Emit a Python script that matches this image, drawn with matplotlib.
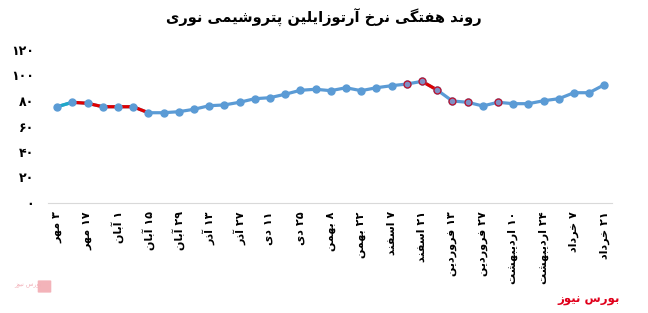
import re
import matplotlib
matplotlib.use("Agg")
import matplotlib.pyplot as plt
from matplotlib.patches import FancyBboxPatch

# --- tiny persian shaper (matplotlib does no arabic shaping / bidi) ---
FORMS = {
    'ا': (0xFE8D, 0xFE8E, None, None), 'آ': (0xFE81, 0xFE82, None, None),
    'ب': (0xFE8F, 0xFE90, 0xFE91, 0xFE92), 'پ': (0xFB56, 0xFB57, 0xFB58, 0xFB59),
    'ت': (0xFE95, 0xFE96, 0xFE97, 0xFE98), 'خ': (0xFEA5, 0xFEA6, 0xFEA7, 0xFEA8),
    'د': (0xFEA9, 0xFEAA, None, None), 'ذ': (0xFEAB, 0xFEAC, None, None),
    'ر': (0xFEAD, 0xFEAE, None, None), 'ز': (0xFEAF, 0xFEB0, None, None),
    'س': (0xFEB1, 0xFEB2, 0xFEB3, 0xFEB4), 'ش': (0xFEB5, 0xFEB6, 0xFEB7, 0xFEB8),
    'ف': (0xFED1, 0xFED2, 0xFED3, 0xFED4), 'گ': (0xFB92, 0xFB93, 0xFB94, 0xFB95),
    'ل': (0xFEDD, 0xFEDE, 0xFEDF, 0xFEE0), 'م': (0xFEE1, 0xFEE2, 0xFEE3, 0xFEE4),
    'ن': (0xFEE5, 0xFEE6, 0xFEE7, 0xFEE8), 'و': (0xFEED, 0xFEEE, None, None),
    'ه': (0xFEE9, 0xFEEA, 0xFEEB, 0xFEEC), 'ی': (0xFBFC, 0xFBFD, 0xFBFE, 0xFBFF),
}


def shape(s):
    out = []
    for i, c in enumerate(s):
        if c not in FORMS:
            out.append(c)
            continue
        f = FORMS[c]
        prev = s[i - 1] if i > 0 else ''
        nxt = s[i + 1] if i + 1 < len(s) else ''
        jp = prev in FORMS and FORMS[prev][2] is not None
        jn = nxt in FORMS and f[2] is not None
        if jp and jn:
            code = f[3]
        elif jp:
            code = f[1]
        elif jn:
            code = f[2]
        else:
            code = f[0]
        out.append(chr(code))
    shaped = ''.join(out)
    toks = re.findall(r'[۰-۹0-9]+|[^۰-۹0-9]+', shaped)
    return ''.join(t if re.match(r'[۰-۹0-9]', t) else t[::-1] for t in toks[::-1])


title = "روند هفتگی نرخ آرتوزایلین پتروشیمی نوری"
labels = ["۳ مهر", "۱۷ مهر", "۱ آبان", "۱۵ آبان", "۲۹ آبان", "۱۳ آذر", "۲۷ آذر",
          "۱۱ دی", "۲۵ دی", "۸ بهمن", "۲۲ بهمن", "۷ اسفند", "۲۱ اسفند",
          "۱۳ فروردین", "۲۷ فروردین", "۱۰ اردیبهشت", "۲۴ اردیبهشت",
          "۷ خرداد", "۲۱ خرداد"]
prices = [75.5, 79.0, 78.2, 75.5, 75.5, 75.5, 70.8, 70.8, 71.6, 73.5,
          76.3, 76.9, 79.0, 81.8, 82.6, 85.3, 88.4, 89.2, 88.1, 90.4,
          88.1, 90.4, 92.0, 93.3, 95.4, 88.6, 80.0, 79.0, 76.1, 79.0,
          77.9, 77.9, 80.2, 81.8, 86.5, 86.5, 92.8]
yticks = [0, 20, 40, 60, 80, 100, 120]
ytick_labels = ["۰", "۲۰", "۴۰", "۶۰", "۸۰", "۱۰۰", "۱۲۰"]
red_runs = [(1, 6), (24, 25)]
teal_runs = [(0, 1)]
outlined = [23, 24, 25, 26, 27, 29]

plt.rcParams['font.family'] = ['DejaVu Sans']

fig = plt.figure(figsize=(6.48, 3.13), dpi=100)
ax = fig.add_axes([48 / 648, 1 - 203 / 313, (612 - 48) / 648, (203 - 50) / 313])

x = list(range(len(prices)))
blue = '#5B9BD5'
ax.plot(x, prices, color=blue, lw=2.3, zorder=2)
for a, b in red_runs:
    ax.plot(x[a:b + 1], prices[a:b + 1], color='#E00000', lw=2.3, zorder=3)
for a, b in teal_runs:
    ax.plot(x[a:b + 1], prices[a:b + 1], color='#1FA8C9', lw=2.3, zorder=3)
ax.plot(x, prices, 'o', color=blue, ms=5, zorder=4)
ax.plot([x[i] for i in outlined], [prices[i] for i in outlined], 'o',
        mfc='#7F8FC4', mec='#C0102A', mew=0.9, ms=5, zorder=5)

ax.set_xlim(-0.6, 36.5)
ax.set_ylim(0, 120)
ax.set_yticks(yticks)
ax.set_yticklabels(ytick_labels, fontsize=9, fontweight='bold')
ax.set_xticks(x[::2])
ax.set_xticklabels([shape(l) for l in labels], rotation=90, fontsize=8,
                   fontweight='bold', va='top', ha='center')
ax.tick_params(length=0, pad=6)
ax.tick_params(axis='y', pad=10)
for s in ['top', 'right', 'left']:
    ax.spines[s].set_visible(False)
ax.spines['bottom'].set_color('#D9D9D9')

fig.text(0.5, 1 - 18 / 313, shape(title), ha='center', va='center',
         fontsize=10.5, fontweight='bold')
fig.text(620 / 648, 1 - 300 / 313, shape("بورس نیوز"), ha='right', va='center',
         fontsize=8.5, fontweight='bold', color='#E0001B')
fig.patches.append(FancyBboxPatch((39 / 648, 1 - 292 / 313), 11 / 648, 11 / 313,
                                  boxstyle='round,pad=0.002', transform=fig.transFigure,
                                  fc='#F0A0A8', ec='none', alpha=0.8))
fig.text(14 / 648, 1 - 286 / 313, shape("بورس نیوز"), ha='left', va='center',
         fontsize=4.5, color='#F2B0B8')

fig.savefig('out.png', dpi=100)
